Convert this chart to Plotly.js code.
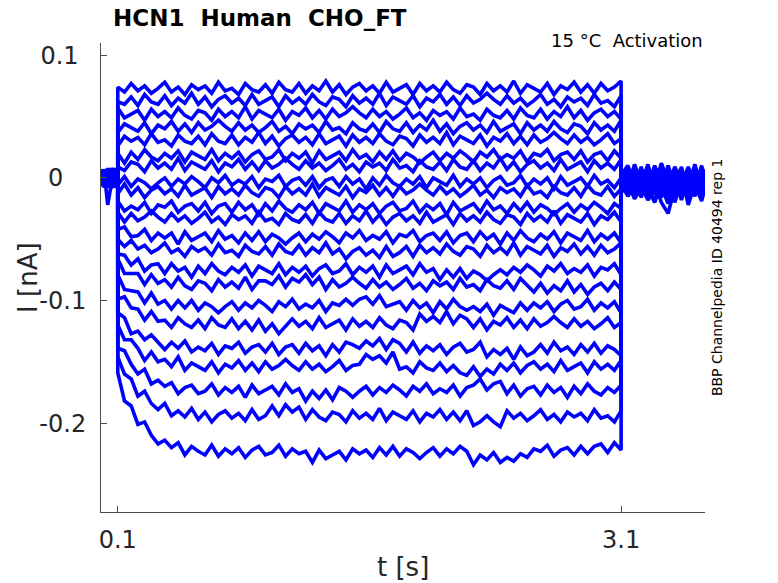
<!DOCTYPE html>
<html>
<head>
<meta charset="utf-8">
<script src="https://cdn.plot.ly/plotly-3.0.1.min.js"></script>
<style>
  html, body { margin: 0; padding: 0; background: #fff; }
  #chart { width: 778px; height: 583px; }
</style>
</head>
<body>
<div id="chart"></div>
<script>
// Time base [s]: holding (0-0.1), activation step (0.1-3.1), back to holding (3.1-3.6)
var t = [0,.02,.04,.06,.08,.1,
  .1,.14,.18,.22,.26,.3,.34,.38,.42,.46,
  .5,.54,.58,.62,.66,.7,.74,.78,.82,.86,
  .9,.94,.98,1.02,1.06,1.1,1.14,1.18,1.22,1.26,
  1.3,1.34,1.38,1.42,1.46,1.5,1.54,1.58,1.62,1.66,
  1.7,1.74,1.78,1.82,1.86,1.9,1.94,1.98,2.02,2.06,
  2.1,2.14,2.18,2.22,2.26,2.3,2.34,2.38,2.42,2.46,
  2.5,2.54,2.58,2.62,2.66,2.7,2.74,2.78,2.82,2.86,
  2.9,2.94,2.98,3.02,3.06,3.1,
  3.1,3.14,3.18,3.22,3.26,3.3,3.34,3.38,3.42,3.46,3.5,3.54,3.58,3.6]

// Currents in pA, one array per voltage step
var i01 = [3,-4,6,-2,5,1,
  74,70,77,71,75,69,73,78,70,74, 68,76,72,75,69,78,71,73,68,77, 72,70,76,69,78,72,70,77,69,75,
  71,79,70,76,68,74,77,71,75,69, 78,70,73,76,68,77,71,75,70,78, 72,69,76,74,68,77,71,75,70,79,
  69,76,73,70,77,68,75,72,78,70, 76,69,77,71,74,79,
  4,8,-9,3,-6,10,-3,-12,6,-5,9,-7,2,-4]
var i02 = [-5,7,-3,4,-6,2,
  62,60,66,59,68,62,60,67,59,65, 61,69,60,66,58,64,67,61,65,59, 68,60,63,66,58,67,61,65,60,68,
  62,59,66,64,58,67,61,65,60,69, 59,66,63,60,67,58,65,62,68,60, 66,59,67,61,64,69,
  64,60,67,61,65,59,63,68,60,64, 58,66,62,65,59,68,61,63,58,67,
  5,-2,8,-6,-11,2,6,-9,-4,9,-15,-1,7,-5]
var i03 = [6,-2,-8,3,-4,5,
  57,49,52,55,47,56,50,54,49,57, 51,48,55,53,47,56,50,54,49,58, 48,55,52,49,56,47,54,51,57,49,
  55,48,56,50,53,58, 53,49,56,50,54,48,52,57,49,53, 47,55,51,54,48,57,50,52,47,56,
  51,49,55,48,57,51,49,56,48,54, 50,58,49,55,47,53,56,50,54,48,
  6,2,-7,9,-11,4,-5,8,-9,1,-13,5,-6,7]
var i04 = [-2,5,-6,8,-1,-3,
  37,44,41,38,45,36,43,40,46,38, 44,37,45,39,42,47, 42,38,45,39,43,37,41,46,38,42,
  36,44,40,43,37,46,39,41,36,45, 40,38,44,37,46,40,38,45,37,43, 39,47,38,44,36,42,45,39,43,37,
  46,38,41,44,36,45,39,43,38,46, 40,37,44,42,36,45,39,43,38,47,
  1,-6,6,-10,9,-2,-14,4,-5,-11,8,-3,-7,3]
var i05 = [4,-7,2,-3,7,-1,
  26,34,30,33,27,36,29,31,26,35, 30,28,34,27,36,30,28,35,27,33, 29,37,28,34,26,32,35,29,33,27,
  36,28,31,34,26,35,29,33,28,36, 30,27,34,32,26,35,29,33,28,37, 27,34,31,28,35,26,33,30,36,28,
  34,27,35,29,32,37, 32,28,35,29,33,27,31,36,28,32,
  2,10,-4,-10,5,-7,12,-3,-8,7,-14,2,-9,6]
var i06 = [-6,3,5,-5,2,4,
  20,12,21,15,23,17,14,20,16,22, 13,21,18,15,23,14,20,16,21,13, 19,22,15,17,23,14,20,16,21,12,
  22,15,18,21,14,23,16,19,13,21, 15,22,14,20,17,12, 17,21,14,20,16,22,18,13,21,17,
  23,15,19,16,22,13,20,18,23,14, 19,21,15,22,13,19,21,14,22,16,
  -2,3,-13,7,-4,-9,5,-6,1,-17,3,-8,10,-2]
var i07 = [5,2,-5,-8,4,-3,
  9,6,13,11,5,14,8,12,7,16, 6,13,10,7,14,5,12,9,15,7, 13,6,14,8,11,16,
  11,7,14,8,12,6,10,15,7,11, 5,13,9,12,6,15,8,10,5,14, 9,7,13,6,15,9,7,14,6,12,
  8,16,7,13,5,11,14,8,12,6, 15,7,10,13,5,14,8,12,7,15,
  -3,-10,5,-14,7,-6,2,-16,4,-8,6,-12,3,-5]
var i08 = [-1,-6,3,6,-4,7,
  -6,1,-7,-1,-4,-9, -4,0,-7,-1,-5,1,-3,-8,0,-4, 2,-6,-2,-5,1,-8,-1,-3,2,-7,
  -2,0,-6,1,-8,-2,0,-7,1,-5, -1,-9,0,-6,2,-4,-7,-1,-5,1, -8,0,-3,-6,2,-7,-1,-5,0,-8,
  -2,1,-6,-4,2,-7,-1,-5,0,-9, 1,-6,-3,0,-7,2,-5,-2,-8,0,
  -5,-8,11,-4,-15,3,-9,6,-20,-2,4,-11,8,-7]
var i09 = [2,5,-4,-1,8,-5,
  -13,-5,-14,-8,-16,-10,-7,-13,-9,-15, -6,-14,-11,-8,-16,-7,-13,-9,-14,-6, -12,-15,-8,-10,-16,-7,-13,-9,-14,-5,
  -15,-8,-11,-14,-7,-16,-9,-12,-6,-14, -8,-15,-7,-13,-10,-5, -10,-14,-7,-13,-9,-15,-11,-6,-14,-10,
  -16,-8,-12,-9,-15,-6,-13,-11,-16,-7, -12,-14,-8,-15,-6,-12,-14,-7,-15,-9,
  3,-4,9,-8,1,-12,7,-2,-10,5,-6,11,-9,0]
var i10 = [-4,1,7,-7,-2,3,
  -19,-27,-23,-26,-20,-29,-22,-24,-19,-28, -23,-21,-27,-20,-29,-23,-21,-28,-20,-26, -22,-30,-21,-27,-19,-25,-28,-22,-26,-20,
  -29,-21,-24,-27,-19,-28,-22,-26,-21,-29, -23,-20,-27,-25,-19,-28,-22,-26,-21,-30, -20,-27,-24,-21,-28,-19,-26,-23,-29,-21,
  -27,-20,-28,-22,-25,-30, -25,-21,-28,-22,-26,-20,-24,-29,-21,-25,
  -1,7,-11,2,-7,8,-16,-1,6,-9,3,-13,5,-8]
var i11 = [7,-3,-1,4,-6,0,
  -28,-36,-29,-35,-32,-27, -32,-36,-29,-35,-31,-37,-33,-28,-36,-32, -38,-30,-34,-31,-37,-28,-35,-33,-38,-29,
  -34,-36,-30,-37,-28,-34,-36,-29,-37,-31, -35,-27,-36,-30,-38,-32,-29,-35,-31,-37, -28,-36,-33,-30,-38,-29,-35,-31,-36,-28,
  -34,-37,-30,-32,-38,-29,-35,-31,-36,-27, -37,-30,-33,-36,-29,-38,-31,-34,-28,-36,
  2,-9,4,-5,11,-13,1,-7,9,-3,-18,6,-4,2]
var i12 = [-3,6,-5,1,5,-4,
  -42,-40,-48,-47,-42,-51,-45,-49,-45,-54, -44,-51,-48,-45,-52,-43,-50,-47,-53,-45, -51,-44,-52,-46,-49,-54,
  -49,-45,-52,-46,-50,-44,-48,-53,-45,-49, -43,-51,-47,-50,-44,-53,-46,-48,-43,-52, -47,-45,-51,-44,-53,-47,-45,-52,-44,-50,
  -46,-54,-45,-51,-43,-49,-52,-46,-50,-44, -53,-45,-48,-51,-43,-52,-46,-50,-45,-53,
  -6,-14,2,-9,-17,-4,-20,-29,-8,-15,-2,-12,-6,-10]
var i13 = [1,-5,8,-3,-7,6,
  -50,-56,-51,-58,-55,-61,-58,-53,-61,-58, -64,-56,-60,-57,-63,-54,-61,-59,-64,-55, -60,-62,-56,-63,-54,-60,-62,-55,-63,-57,
  -61,-53,-62,-58,-66,-60,-57,-63,-59,-65, -56,-64,-61,-56,-64,-55,-61,-57,-62,-54, -60,-63,-56,-58,-64,-55,-61,-57,-62,-53,
  -63,-56,-59,-62,-55,-64,-57,-60,-54,-62, -56,-63,-55,-61,-58,-53,
  -4,5,-12,-3,8,-10,-5,3,-15,-7,6,-2,-11,1]
var i14 = [-7,2,4,-2,6,-6,
  -62,-63,-71,-66,-76,-71,-70,-78,-70,-76, -73,-81,-72,-78,-70,-76,-79,-73,-77,-71, -80,-72,-75,-78,-70,-79,-73,-77,-72,-80,
  -74,-71,-78,-76,-70,-79,-73,-77,-72,-81, -71,-78,-75,-72,-79,-70,-77,-74,-83,-75, -81,-74,-82,-76,-79,-84,
  -79,-75,-79,-73,-77,-71,-75,-80,-72,-76, -70,-78,-74,-77,-71,-80,-73,-75,-70,-79,
  3,-7,1,-16,4,-3,-9,10,-6,-12,2,-8,-1,-6]
var i15 = [4,-1,-6,7,-3,2,
  -66,-78,-78,-78,-87,-79,-86,-83,-89,-81, -88,-91,-84,-86,-92,-83,-89,-85,-90,-81, -91,-84,-84,-87,-80,-89,-82,-85,-79,-87,
  -81,-91,-83,-89,-86,-81, -86,-90,-83,-89,-85,-91,-87,-82,-90,-86, -92,-84,-88,-85,-91,-82,-89,-87,-92,-83,
  -88,-90,-84,-91,-82,-88,-93,-86,-94,-88, -92,-84,-93,-87,-95,-89,-86,-92,-85,-91,
  -7,-2,-11,6,-8,-19,1,-6,-13,3,-9,-4,7,-12]
var i16 = [-2,-6,3,5,-8,1,
  -79,-91,-92,-93,-102,-94,-103,-100,-107,-100, -106,-100,-108,-102,-105,-110,
  -105,-101,-108,-102,-106,-100,-104,-109,-101,-105, -99,-107,-103,-106,-100,-109,-102,-104,-99,-104,
  -99,-97,-103,-96,-105,-103,-101,-108,-100,-106, -102,-110,-101,-107,-99,-105,-108,-105,-109,-103,
  -112,-104,-107,-110,-102,-108,-102,-106,-101,-109, -103,-100,-107,-105,-99,-108,-102,-106,-101,-110,
  0,-13,3,-5,-10,7,-15,-4,2,-11,-6,5,-17,-3]
var i17 = [6,-4,-2,-6,3,5,
  -99,-97,-106,-107,-116,-109,-117,-116,-122,-114, -119,-122,-116,-123,-114,-120,-122,-115,-123,-117,
  -124,-116,-125,-119,-127,-121,-115,-121,-117,-123, -114,-122,-119,-116,-124,-115,-121,-117,-122,-114,
  -120,-123,-116,-118,-124,-111,-117,-113,-118,-109, -119,-112,-115,-122,-115,-124,-117,-120,-114,-122,
  -116,-123,-115,-121,-118,-113, -118,-122,-115,-121,-117,-123,-119,-114,-122,-118,
  -9,-3,-16,2,-7,-12,4,-10,-2,-18,1,-8,-5,-14]
var i18 = [-4,3,-7,2,6,-2,
  -110,-114,-127,-125,-132,-128,-134,-140,-134,-139, -133,-142,-138,-141,-135,-144,-137,-139,-134,-143,
  -138,-136,-142,-135,-144,-138,-136,-143,-135,-141, -137,-145,-136,-142,-134,-136,-139,-133,-137,-131,
  -140,-132,-135,-142,-134,-143,-137,-141,-136,-144, -138,-135,-142,-140,-134,-146,-140,-144,-139,-148,
  -138,-145,-142,-136,-143,-134,-141,-138,-144,-136, -142,-135,-143,-137,-140,-145,
  -2,-11,5,-8,-14,-1,-7,-21,2,-9,-4,-15,6,-6]
var i19 = [3,-8,1,6,-5,-1,
  -120,-132,-132,-139,-149,-142,-150,-148,-154,-146, -157,-151,-154,-157,-150,-159,-152,-155,-149,-157,
  -151,-158,-150,-156,-153,-148, -153,-157,-150,-156,-152,-158,-154,-149,-157,-153,
  -152,-144,-148,-145,-151,-142,-156,-154,-159,-150, -155,-157,-151,-158,-153,-159,-161,-154,-162,-156,
  -160,-152,-157,-151,-159,-153,-150,-156,-152,-158, -149,-157,-154,-151,-159,-150,-156,-152,-157,-149,
  -10,-4,-17,-9,1,-13,-6,-2,-16,-8,-12,3,-10,-4]
var i20 = [-5,4,2,-4,-1,7,
  -139,-141,-152,-160,-156,-168,-165,-170,-167,-176, -171,-169,-176,-174,-168,-177,-171,-175,-170,-179,
  -169,-176,-173,-170,-177,-168,-175,-172,-182,-174, -180,-173,-181,-171,-174,-179,
  -174,-170,-177,-171,-175,-169,-173,-178,-170,-174, -168,-176,-172,-175,-169,-178,-171,-169,-164,-173,
  -168,-166,-176,-169,-178,-172,-170,-177,-169,-175, -171,-179,-170,-176,-168,-174,-177,-171,-175,-169,
  -4,-15,-6,3,-18,-9,-3,-12,-7,-1,-14,-6,-19,-8]
var i21 = [2,-3,6,-9,4,-2,
  -146,-160,-164,-178,-174,-184,-189,-184,-194,-190, -195,-188,-197,-191,-199,-193,-190,-196,-192,-198,
  -189,-197,-194,-186,-194,-185,-191,-187,-197,-189, -195,-198,-191,-193,-199,-190,-196,-192,-197,-188,
  -198,-191,-194,-197,-190,-199,-192,-195,-189,-197, -191,-198,-190,-202,-199,-194,
  -199,-203,-190,-196,-192,-198,-194,-189,-197,-193, -199,-191,-195,-192,-198,-189,-196,-194,-199,-190,
  -12,-6,-1,-14,-8,-20,-4,-10,-16,0,-9,-13,-3,-11]
var i22 = [-3,4,-22,-6,3,-2,
  -159,-182,-186,-201,-199,-210,-217,-214,-220,-216, -226,-219,-223,-226,-218,-227,-221,-225,-220,-228,
  -222,-219,-226,-224,-218,-227,-221,-225,-223,-232, -222,-229,-226,-223,-230,-221,-225,-222,-228,-220,
  -226,-219,-227,-221,-224,-229, -224,-220,-227,-221,-225,-219,-223,-234,-226,-230,
  -224,-232,-228,-231,-225,-228,-221,-223,-218,-227, -222,-220,-226,-219,-225,-219,-217,-224,-216,-222,
  -8,-12,3,-6,-18,6,-10,-1,-14,4,-22,-5,1,-9]

var sweeps = [i01,i02,i03,i04,i05,i06,i07,i08,i09,i10,i11,
  i12,i13,i14,i15,i16,i17,i18,i19,i20,i21,i22]

var yTickVals = [-0.2, -0.1, 0, 0.1]
var yTickText = ['-0.2', '-0.1', '0\u00a0\u00a0\u00a0', '0.1\u00a0']
var xTickVals = [0.1, 3.1]
var xTickText = ['0.1', '3.1']

var data = sweeps.map(function (s) {
  return {
    x: t,
    y: s.map(function (v) { return v / 1000 }),  // pA -> nA
    type: 'scatter',
    mode: 'lines',
    line: {color: '#0000ff', width: 3.6},
    hoverinfo: 'skip',
    showlegend: false
  }
})

var axisColor = '#4d4d4d'
var textColor = '#262626'
var font = 'DejaVu Sans, Liberation Sans, sans-serif'

var layout = {
  width: 778,
  height: 583,
  margin: {l: 101, r: 73, t: 43, b: 71},
  paper_bgcolor: '#ffffff',
  plot_bgcolor: '#ffffff',
  font: {family: font, color: textColor},
  showlegend: false,
  title: {
    text: '<b>HCN1  Human  CHO_FT</b>',
    font: {family: font, size: 23, color: '#000000'},
    xref: 'paper', x: 0.02, xanchor: 'left',
    yref: 'container', y: 0.969, yanchor: 'middle'
  },
  xaxis: {
    range: [0, 3.6],
    tickvals: xTickVals,
    ticktext: xTickText,
    ticks: 'inside',
    ticklen: 6,
    tickcolor: axisColor,
    showline: true,
    linecolor: axisColor,
    linewidth: 1,
    showgrid: false,
    zeroline: false,
    tickfont: {family: font, size: 24, color: textColor},
    ticklabelstandoff: 6
  },
  yaxis: {
    range: [-0.2725, 0.11],
    tickvals: yTickVals,
    ticktext: yTickText,
    ticks: 'inside',
    ticklen: 6,
    tickcolor: axisColor,
    showline: true,
    linecolor: axisColor,
    linewidth: 1,
    showgrid: false,
    zeroline: false,
    tickfont: {family: font, size: 24, color: textColor},
    ticklabelstandoff: 9
  },
  annotations: [
    {
      text: 't [s]', xref: 'paper', yref: 'paper', x: 0.5, y: -0.117,
      xanchor: 'center', yanchor: 'middle', showarrow: false,
      font: {family: font, size: 26, color: textColor}
    },
    {
      text: 'I [nA]', xref: 'paper', yref: 'paper', x: -0.121, y: 0.499,
      xanchor: 'center', yanchor: 'middle', textangle: -90, showarrow: false,
      font: {family: font, size: 26, color: textColor}
    },
    {
      text: '15 °C  Activation', xref: 'paper', yref: 'paper', x: 1.0, y: 1.006,
      xanchor: 'right', yanchor: 'middle', showarrow: false,
      font: {family: font, size: 18, color: '#000000'}
    },
    {
      text: 'BBP Channelpedia ID 40494 rep 1', xref: 'paper', yref: 'paper', x: 1.02, y: 0.501,
      xanchor: 'center', yanchor: 'middle', textangle: -90, showarrow: false,
      font: {family: font, size: 14, color: '#000000'}
    }
  ]
}

Plotly.newPlot('chart', data, layout, {staticPlot: true})
</script>
</body>
</html>
